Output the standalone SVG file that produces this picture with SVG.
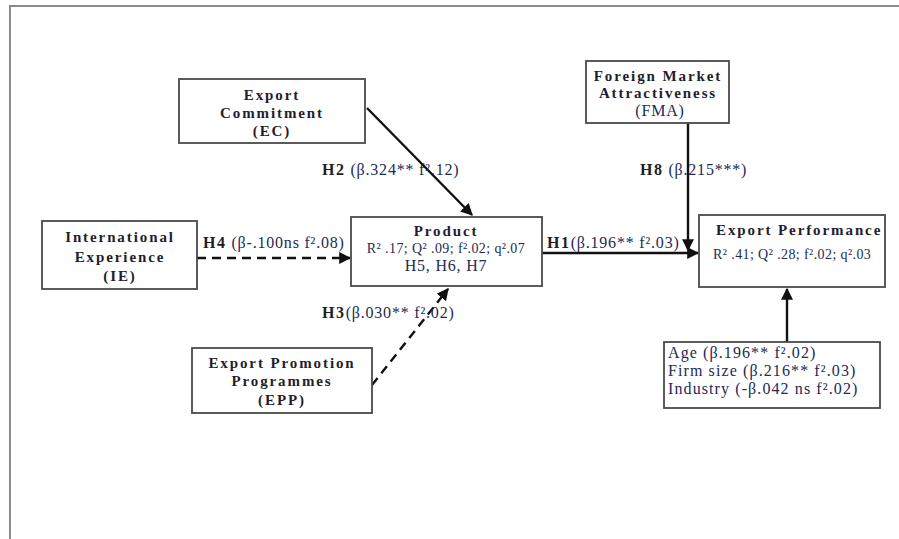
<svg xmlns="http://www.w3.org/2000/svg" width="899" height="539" viewBox="0 0 899 539">
<style>
.box{fill:#fff;stroke:#4a4a4a;stroke-width:1.8}
.t{font-family:"Liberation Serif","Times New Roman",serif;fill:#1e1e2e}
.b{font-weight:bold;letter-spacing:1.9px;font-size:15px}
.r{font-size:16px;letter-spacing:0.8px;fill:#232a55}
.s{font-size:14px;letter-spacing:0.4px;fill:#232a55}
.c{font-size:16px;letter-spacing:1.1px;fill:#232a55}
.hb{font-weight:bold;letter-spacing:1.6px;fill:#1e1e1e}
.ln{stroke:#111;stroke-width:2.4;fill:none}
.dash{stroke-dasharray:9 6}
</style>
<defs>
<marker id="ah" viewBox="0 0 10 10" refX="9" refY="5" markerWidth="5" markerHeight="5" orient="auto" markerUnits="strokeWidth">
<path d="M0,0 L10,5 L0,10 z" fill="#111"/>
</marker>
</defs>
<rect x="0" y="0" width="899" height="539" fill="#fff"/>
<path d="M10,539 V6 H899" fill="none" stroke="#8a8a8a" stroke-width="2"/>

<g id="connectors">
<line class="ln" x1="367" y1="108" x2="472" y2="215" marker-end="url(#ah)"/>
<line class="ln" x1="688" y1="123" x2="688" y2="250" marker-end="url(#ah)"/>
<line class="ln" x1="542" y1="253" x2="698" y2="253" marker-end="url(#ah)"/>
<line class="ln dash" x1="197" y1="258" x2="350" y2="258" marker-end="url(#ah)"/>
<line class="ln dash" x1="372" y1="385" x2="448" y2="289" marker-end="url(#ah)"/>
<line class="ln" x1="787" y1="342" x2="787" y2="289" marker-end="url(#ah)"/>
</g>

<g id="labels">
<text class="t r" x="322" y="175"><tspan class="hb">H2</tspan> (β.324** f².12)</text>
<text class="t r" x="640" y="175"><tspan class="hb">H8</tspan> (β.215***)</text>
<text class="t r" x="547" y="248"><tspan class="hb">H1</tspan>(β.196** f².03)</text>
<text class="t r" x="203" y="248"><tspan class="hb">H4</tspan> (β-.100ns f².08)</text>
<text class="t r" x="322" y="318"><tspan class="hb">H3</tspan>(β.030** f².02)</text>
</g>

<g id="ec">
<rect class="box" x="179" y="79" width="186" height="64"/>
<text class="t b" text-anchor="middle" x="272" y="100">Export</text>
<text class="t b" text-anchor="middle" x="272" y="118">Commitment</text>
<text class="t b" text-anchor="middle" x="272" y="136">(EC)</text>
</g>

<g id="fma">
<rect class="box" x="586" y="61" width="143" height="62"/>
<text class="t b" text-anchor="middle" x="658" y="81">Foreign Market</text>
<text class="t b" text-anchor="middle" x="658" y="98">Attractiveness</text>
<text class="t r" text-anchor="middle" x="660" y="116">(FMA)</text>
</g>

<g id="ie">
<rect class="box" x="42" y="221" width="155" height="68"/>
<text class="t b" text-anchor="middle" x="120" y="242">International</text>
<text class="t b" text-anchor="middle" x="120" y="262">Experience</text>
<text class="t b" text-anchor="middle" x="120" y="281">(IE)</text>
</g>

<g id="product">
<rect class="box" x="351" y="217" width="191" height="69"/>
<text class="t b" text-anchor="middle" x="446" y="236">Product</text>
<text class="t s" text-anchor="middle" x="446" y="253">R² .17; Q² .09; f².02; q².07</text>
<text class="t r" text-anchor="middle" x="446" y="271">H5, H6, H7</text>
</g>

<g id="epp">
<rect class="box" x="192" y="348" width="180" height="65"/>
<text class="t b" text-anchor="middle" x="282" y="368">Export Promotion</text>
<text class="t b" text-anchor="middle" x="282" y="386">Programmes</text>
<text class="t b" text-anchor="middle" x="282" y="405">(EPP)</text>
</g>

<g id="ep">
<rect class="box" x="699" y="215" width="186" height="72"/>
<text class="t b" x="716" y="235">Export Performance</text>
<text class="t s" x="713" y="259">R² .41; Q² .28; f².02; q².03</text>
</g>

<g id="controls">
<rect class="box" x="664" y="342" width="216" height="66"/>
<text class="t c" x="668" y="358">Age (β.196** f².02)</text>
<text class="t c" x="668" y="376">Firm size (β.216** f².03)</text>
<text class="t c" x="668" y="394">Industry (-β.042 ns f².02)</text>
</g>
</svg>
